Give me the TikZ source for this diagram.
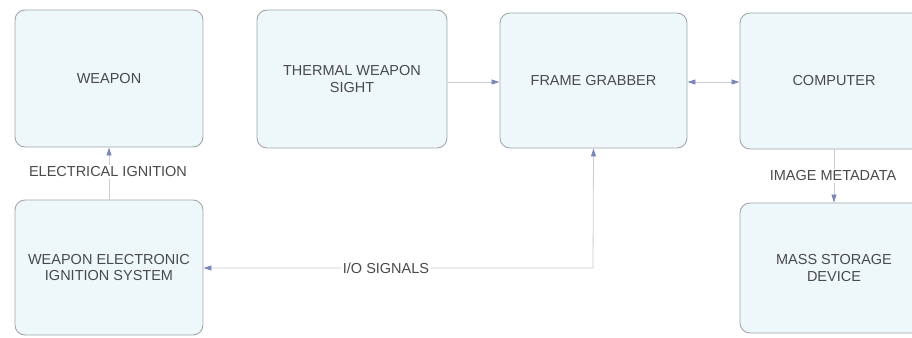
\documentclass[tikz,border=0pt]{standalone}
\usepackage{fontspec}
\setmainfont{Liberation Sans}
\usetikzlibrary{arrows.meta}
\definecolor{boxfill}{HTML}{EEF7FA}
\definecolor{boxline}{HTML}{A3A7AA}
\definecolor{txt}{HTML}{4A4A4A}
\definecolor{conn}{HTML}{C9CCD2}
\definecolor{tip}{HTML}{7C86B8}
\tikzset{
  blk/.style={draw=boxline, line width=0.9pt, fill=boxfill, rounded corners=10pt,
    align=center, text=txt, font=\fontsize{14.5}{16.5}\selectfont, inner sep=0pt},
  lbl/.style={fill=white, text=txt, font=\fontsize{14.5}{16.5}\selectfont, inner sep=2pt},
  conline/.style={draw=conn, line width=0.8pt},
  arr/.style={conline, -{Triangle[length=8pt,width=5pt,fill=tip,color=tip]}},
  darr/.style={conline, {Triangle[length=8pt,width=5pt,fill=tip,color=tip]}-{Triangle[length=8pt,width=5pt,fill=tip,color=tip]}}
}
\begin{document}
\begin{tikzpicture}[x=1pt,y=-1pt]
\useasboundingbox (0,0) rectangle (912,337);
\clip (0,0) rectangle (912,337);
\node[blk, minimum width=188pt, minimum height=137pt] (weapon) at (109,78.5) {WEAPON};
\node[blk, minimum width=190pt, minimum height=138pt] (tws) at (352,79) {THERMAL WEAPON\\SIGHT};
\node[blk, minimum width=187pt, minimum height=135pt] (fg) at (593.5,80.5) {FRAME GRABBER};
\node[blk, minimum width=188pt, minimum height=136pt] (comp) at (834,81) {COMPUTER};
\node[blk, minimum width=188pt, minimum height=135pt] (weis) at (109,267.5) {WEAPON ELECTRONIC\\IGNITION SYSTEM};
\node[blk, minimum width=188pt, minimum height=130pt] (msd) at (834,268) {MASS STORAGE\\DEVICE};

\draw[arr] (tws.east |- 0,82) -- (fg.west |- 0,82);
\draw[darr] (fg.east |- 0,82) -- (comp.west |- 0,82);

\coordinate (iocorner) at (593,268);
\draw[darr] (fg.south) -- (iocorner) -- (weis.east |- iocorner);
\node[lbl] (io) at (386,268) {I/O SIGNALS};

\draw[arr] (weis.north) -- (weapon.south);
\node[lbl] (ei) at (108,172) {ELECTRICAL IGNITION};

\draw[arr] (comp.south) -- (msd.north);
\node[lbl] (im) at (833,176) {IMAGE METADATA};
\end{tikzpicture}
\end{document}
